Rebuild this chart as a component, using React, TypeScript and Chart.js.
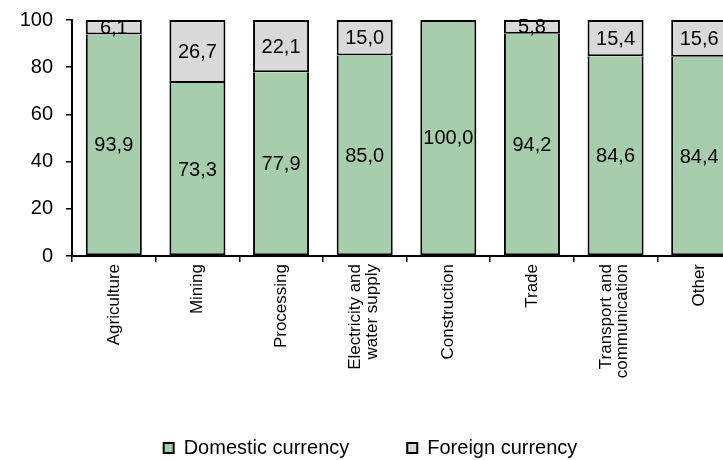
import React, { useEffect, useRef } from "react";
import { Chart, registerables } from "chart.js";

Chart.register(...registerables);

const categories: (string | string[])[] = [
  "Agriculture",
  "Mining",
  "Processing",
  ["Electricity and", "water supply"],
  "Construction",
  "Trade",
  ["Transport and", "communication"],
  "Other",
];
const domestic = [93.9, 73.3, 77.9, 85.0, 100.0, 94.2, 84.6, 84.4];
const foreign = [6.1, 26.7, 22.1, 15.0, 0, 5.8, 15.4, 15.6];
const seriesNames = ["Domestic currency", "Foreign currency"];
const yTicks = [0, 20, 40, 60, 80, 100];

const FONT = "'Liberation Sans', Arial, sans-serif";

const labelPlugin = {
  id: "barLabels",
  beforeDraw(chart: any) {
    // center multi-line rotated category labels on their tick
    const s = chart.scales.x;
    const items = s.getLabelItems();
    items.forEach((it: any) => {
      if (Array.isArray(it.label) && !it._shifted) {
        it.options.translation[0] -= 9;
        it._shifted = true;
      }
    });
  },
  afterDatasetsDraw(chart: any) {
    const ctx = chart.ctx;
    ctx.save();
    ctx.font = `20px ${FONT}`;
    ctx.fillStyle = "#000";
    ctx.textAlign = "center";
    ctx.textBaseline = "middle";
    chart.data.datasets.forEach((ds: any, di: number) => {
      const meta = chart.getDatasetMeta(di);
      meta.data.forEach((el: any, i: number) => {
        const v = ds.data[i];
        if (!v) return;
        const { x, y, base } = el.getProps(["x", "y", "base"], true);
        ctx.fillText(v.toFixed(1).replace(".", ","), x, (y + base) / 2 + 1);
      });
    });
    ctx.restore();
  },
};

export default function App() {
  const ref = useRef<HTMLCanvasElement>(null);
  useEffect(() => {
    if (!ref.current) return;
    const chart = new Chart(ref.current, {
      type: "bar",
      data: {
        labels: categories,
        datasets: [
          {
            label: seriesNames[0],
            data: domestic,
            backgroundColor: "#A6CEAD",
            borderColor: "#000",
            borderWidth: 2,
            borderSkipped: (c: any) => (foreign[c.dataIndex] > 0 ? "top" : false),
            categoryPercentage: 1,
            barPercentage: 0.67,
          },
          {
            label: seriesNames[1],
            data: foreign,
            backgroundColor: "#D9D9D9",
            borderColor: "#000",
            borderWidth: 2,
            borderSkipped: false,
            categoryPercentage: 1,
            barPercentage: 0.67,
          },
        ],
      },
      options: {
        responsive: false,
        animation: false,
        devicePixelRatio: 1,
        layout: { padding: { top: 20, right: 4, left: 0, bottom: -8 } },
        plugins: {
          tooltip: { enabled: false },
          legend: {
            position: "bottom",
            labels: {
              boxWidth: 10,
              boxHeight: 10,
              padding: 58,
              color: "#000",
              font: { size: 20, family: FONT },
            },
          },
        },
        scales: {
          x: {
            stacked: true,
            grid: {
              display: true,
              drawOnChartArea: false,
              drawTicks: true,
              tickLength: 6,
              color: "#000",
              lineWidth: 1.5,
              offset: true,
            },
            border: { display: true, color: "#000", width: 2 },
            ticks: {
              color: "#000",
              font: { size: 17, family: FONT, lineHeight: 0.95 },
              minRotation: 90,
              maxRotation: 90,
              autoSkip: false,
              padding: 2,
            },
            afterFit: (s: any) => {
              s.height = 124;
              s.paddingLeft = 0;
              s.paddingRight = 0;
            },
          },
          y: {
            stacked: true,
            min: yTicks[0],
            max: yTicks[yTicks.length - 1],
            grid: {
              display: true,
              drawOnChartArea: false,
              drawTicks: true,
              tickLength: 6,
              color: "#000",
              lineWidth: 1.5,
            },
            border: { display: true, color: "#000", width: 2 },
            ticks: {
              stepSize: 20,
              color: "#000",
              font: { size: 20, family: FONT },
              padding: 13,
            },
            afterFit: (s: any) => {
              s.width = 72;
              s.paddingTop = 0;
              s.paddingBottom = 0;
            },
          },
        },
      },
      plugins: [labelPlugin],
    });
    return () => chart.destroy();
  }, []);
  return (
    <div
      style={{
        position: "fixed",
        left: 0,
        top: 0,
        width: 723,
        height: 460,
        overflow: "hidden",
        background: "#fff",
      }}
    >
      <canvas
        ref={ref}
        width={745}
        height={460}
        style={{ width: 745, height: 460, display: "block" }}
      />
    </div>
  );
}
